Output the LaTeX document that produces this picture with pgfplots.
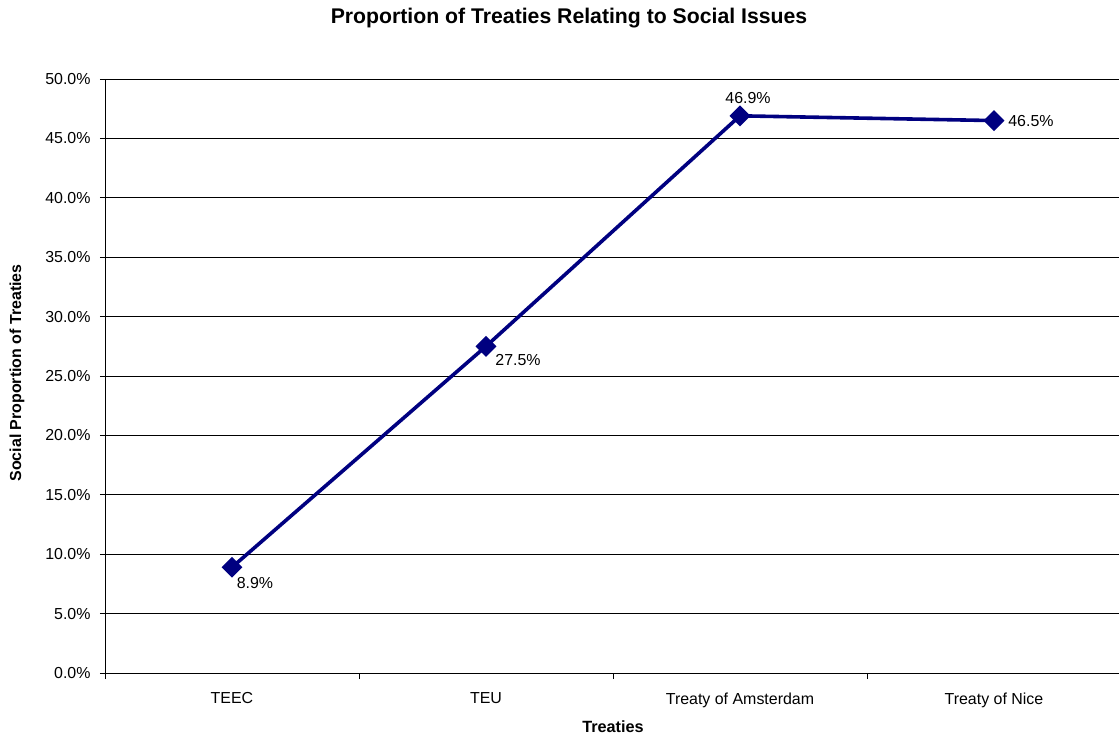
\documentclass[border=0pt]{standalone}
\usepackage{fontspec}
\setmainfont{Liberation Sans}
\usepackage{pgfplots}
\pgfplotsset{compat=1.18}
\definecolor{navy}{RGB}{0,0,128}
\pgfplotstableread{
x y dx dy
0 8.9 23 -16
1 27.5 32 -14
2 46.9 8 18
3 46.5 37 0
}\datatable
\begin{document}
\begin{tikzpicture}
\path[use as bounding box] (0,0) rectangle (1119bp,736bp);
\node[font=\bfseries\fontsize{21.3}{24}\selectfont] at (569bp,718bp) {Proportion of Treaties Relating to Social Issues};
\node[font=\bfseries\fontsize{16.3}{18}\selectfont] at (613bp,9bp) {Treaties};
\node[font=\bfseries\fontsize{16}{18}\selectfont, rotate=90] at (17bp,363bp) {Social Proportion of Treaties};
\begin{axis}[
  at={(105bp,63bp)}, anchor=south west, scale only axis,
  width=1016bp, height=594bp,
  xmin=-0.5, xmax=3.5, ymin=0, ymax=50,
  ytick={0,5,...,50},
  xtick={0,1,2,3},
  xticklabels={TEEC,TEU,Treaty of Amsterdam,Treaty of Nice},
  minor xtick={-0.5,0.5,1.5,2.5,3.5},
  axis x line*=bottom, axis y line*=left,
  axis line style={black, line width=0.8bp},
  ymajorgrids, grid style={black, line width=0.8bp},
  tick align=outside,
  major tick length=5bp, minor tick length=6bp,
  major x tick style={draw=none},
  tick style={black, line width=0.8bp},
  /pgf/number format/assume math mode=true,
  ticklabel style={font=\fontsize{16}{18}\selectfont},
  yticklabel={\pgfmathprintnumber[fixed,fixed zerofill,precision=1]{\tick}\%},
  yticklabel style={xshift=-6bp},
  xticklabel style={yshift=-11bp},
  clip=false,
]
\addplot[navy, line width=3.6bp, mark=square*, mark size=5.6bp,
  mark options={rotate=45, solid, fill=navy},
  point meta=y,
  nodes near coords={\pgfmathprintnumber[fixed,fixed zerofill,precision=1]{\pgfplotspointmeta}\%},
  visualization depends on={\thisrow{dx} \as \dx},
  visualization depends on={\thisrow{dy} \as \dy},
  every node near coord/.append style={anchor=center, xshift=\dx*1bp, yshift=\dy*1bp, black, font=\fontsize{16}{18}\selectfont, /pgf/number format/assume math mode=true},
] table[x=x, y=y] {\datatable};
\end{axis}
\end{tikzpicture}
\end{document}
